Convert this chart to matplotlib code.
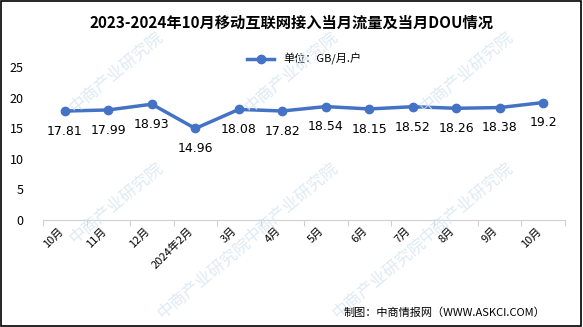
import matplotlib.pyplot as plt
from matplotlib.patches import Rectangle

plt.rcParams['font.family'] = ['Noto Sans CJK SC', 'DejaVu Sans']

# 数据
months = ['10月', '11月', '12月', '2024年2月', '3月', '4月', '5月', '6月', '7月', '8月', '9月', '10月']
dou = [17.81, 17.99, 18.93, 14.96, 18.08, 17.82, 18.54, 18.15, 18.52, 18.26, 18.38, 19.2]
yticks = [0, 5, 10, 15, 20, 25]

fig = plt.figure(figsize=(5.83, 3.27), dpi=100)
ax = fig.add_axes([0.074, 0.327, 0.895, 0.468])

# 水印
for wx, wy in [(0.2, 0.78), (0.5, 0.78), (0.8, 0.78),
               (0.2, 0.38), (0.5, 0.38), (0.8, 0.38),
               (0.35, 0.15), (0.65, 0.15)]:
    fig.text(wx, wy, '中商产业研究院', color='#d6e5f1', fontsize=12,
             rotation=40, ha='center', va='center', alpha=0.8, zorder=0)

x = list(range(len(months)))
ax.plot(x, dou, color='#4472C4', lw=2.5, marker='o', ms=6, zorder=3)
for xi, v in zip(x, dou):
    ax.annotate(f'{v:g}', (xi, v), xytext=(0, -10), textcoords='offset points',
                ha='center', va='top', fontsize=9, family='DejaVu Sans')

ax.set_xlim(-0.5, len(months) - 0.5)
ax.set_ylim(0, 25)
ax.set_yticks(yticks)
ax.set_xticks([i - 0.5 for i in range(len(months) + 1)], minor=False)
ax.set_xticklabels([])
ax.set_xticks(x, minor=True)
ax.set_xticklabels(months, minor=True, rotation=45, ha='right', fontsize=8)
ax.tick_params(axis='x', which='major', length=4, color='#d0d0d0')
ax.tick_params(axis='x', which='minor', length=0, pad=4)
ax.tick_params(axis='y', length=0, labelsize=9, pad=14)
for s in ['top', 'right', 'left']:
    ax.spines[s].set_visible(False)
ax.spines['bottom'].set_color('#d0d0d0')
ax.patch.set_alpha(0)

fig.text(0.5, 0.93, '2023-2024年10月移动互联网接入当月流量及当月DOU情况',
         ha='center', va='center', fontsize=11, fontweight='bold')
ax.plot([], [], color='#4472C4', lw=2.5, marker='o', ms=6, label='单位：GB/月.户')
ax.legend(loc='center', bbox_to_anchor=(0.5, 1.05), frameon=False, fontsize=8,
          handlelength=2.5)
fig.text(0.935, 0.045, '制图：中商情报网（WWW.ASKCI.COM）', ha='right', va='center', fontsize=8)

fig.patches.append(Rectangle((0.002, 0.003), 0.995, 0.994, transform=fig.transFigure,
                             fill=False, edgecolor='black', lw=1.2))

fig.savefig('out.png', dpi=100)
